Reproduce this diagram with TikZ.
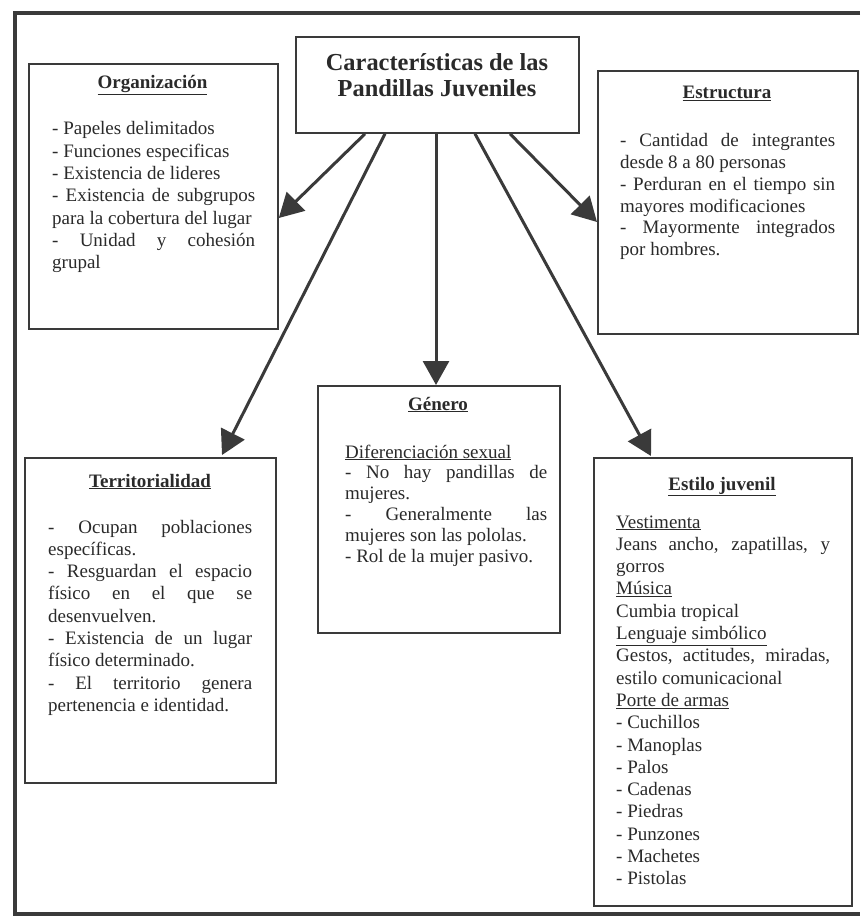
\documentclass[tikz,border=0pt]{standalone}
\usepackage{fontspec}
\setmainfont{Liberation Serif}
\usetikzlibrary{arrows.meta,calc}
\definecolor{ink}{HTML}{2A2A2A}
\definecolor{frame}{HTML}{3A3A3A}
\tolerance=10000
\hyphenpenalty=10000
\hbadness=10000
\begin{document}
\begin{tikzpicture}[x=1pt,y=-1pt,
  box/.style={draw=frame, line width=1.8pt, rectangle, inner sep=0pt, anchor=north west},
  head/.style={anchor=base, inner sep=0pt, text=ink, font=\fontsize{19}{22}\selectfont\bfseries},
  body/.style={anchor=base west, inner sep=0pt, text=ink, align=justify,
    font=\fontsize{19}{22.3}\selectfont},
  arr/.style={draw=frame, line width=3pt, -{Triangle[length=24pt,width=26pt]}},
]
\useasboundingbox (0,0) rectangle (860,917);
\fill[white] (0,0) rectangle (860,917);
% outer frame
\draw[frame, line width=4.5pt, line join=miter] (860,13) -- (15,13) -- (15,914) -- (860,914);

% boxes
\node[box, minimum width=283, minimum height=96] (title) at (295,36) {};
\node[box, minimum width=249, minimum height=265] (org) at (28,63) {};
\node[box, minimum width=260, minimum height=263] (estr) at (597,70) {};
\node[box, minimum width=251, minimum height=325] (terr) at (24,457) {};
\node[box, minimum width=242, minimum height=247] (gen) at (317,385) {};
\node[box, minimum width=258, minimum height=448] (est) at (593,457) {};

% title text
\node[anchor=base, inner sep=0pt, text=ink, align=center,
  font=\fontsize{24.4}{26}\selectfont\bfseries] (titletext) at (437,97)
  {Características de las\\Pandillas Juveniles};

% headings
\node[head] (orgh) at (152.5,89) {\underline{Organización}};
\node[head] (estrh) at (727,99) {\underline{Estructura}};
\node[head] (terrh) at (150,487) {\underline{Territorialidad}};
\node[head] (genh) at (438,410) {\underline{Género}};
\node[head] (esth) at (722,490) {\underline{Estilo juvenil}};

% bodies
\node[body, text width=203] (orgb) at (52,135) {%
- Papeles delimitados\\
- Funciones especificas\\
- Existencia de lideres\\
- Existencia de subgrupos\linebreak para la cobertura del lugar\\
- Unidad y cohesión\linebreak grupal};

\node[body, text width=215, font=\fontsize{19}{21.7}\selectfont] (estrb) at (620,147) {%
- Cantidad de integrantes\linebreak desde 8 a 80 personas\\
- Perduran en el tiempo sin\linebreak mayores modificaciones\\
- Mayormente integrados\linebreak por hombres.};

\node[body, text width=204] (terrb) at (48,533) {%
- Ocupan poblaciones\linebreak específicas.\\
- Resguardan el espacio\linebreak físico en el que se\linebreak desenvuelven.\\
- Existencia de un lugar\linebreak físico determinado.\\
- El territorio genera\linebreak pertenencia e identidad.};

\node[body, text width=202, font=\fontsize{19}{20.8}\selectfont] (genb) at (345,458) {%
\underline{Diferenciación sexual}\\
- No hay pandillas de\linebreak mujeres.\\
- Generalmente las\linebreak mujeres son las pololas.\\
- Rol de la mujer pasivo.};

\node[body, text width=214] (estb) at (616,528) {%
\underline{Vestimenta}\\
Jeans ancho, zapatillas, y\linebreak gorros\\
\underline{Música}\\
Cumbia tropical\\
\underline{Lenguaje simbólico}\\
Gestos, actitudes, miradas,\linebreak estilo comunicacional\\
\underline{Porte de armas}\\
- Cuchillos\\
- Manoplas\\
- Palos\\
- Cadenas\\
- Piedras\\
- Punzones\\
- Machetes\\
- Pistolas};

% connectors
\draw[arr] ($(title.south west)+(70,0)$) -- ($(org.north east)+(0,155)$);
\draw[arr] ($(title.south west)+(90,0)$) -- ($(terr.north west)+(198,-2)$);
\draw[arr] ($(title.south west)+(141,0)$) -- ($(gen.north west)+(119,0)$);
\draw[arr] ($(title.south west)+(180,0)$) -- ($(est.north west)+(58,-1)$);
\draw[arr] ($(title.south west)+(215,0)$) -- ($(estr.north west)+(0,152)$);
\end{tikzpicture}
\end{document}
